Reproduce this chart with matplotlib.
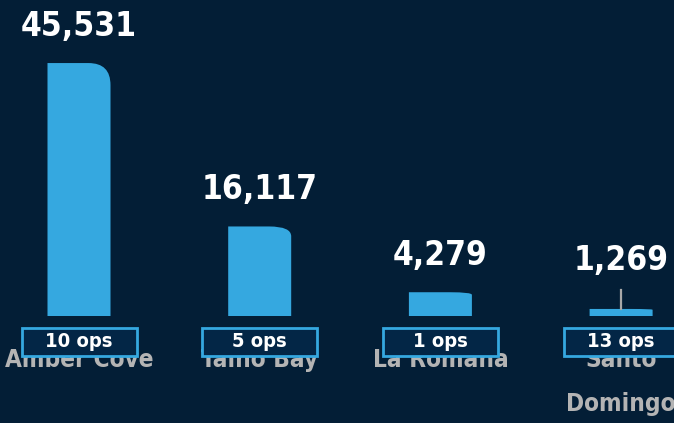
import matplotlib
matplotlib.use("Agg")
import matplotlib.pyplot as plt
from matplotlib import font_manager
from matplotlib.path import Path
from matplotlib.patches import PathPatch, Rectangle

# ---- data ----
ports = ["Amber Cove", "Taino Bay", "La Romana", "Santo\nDomingo"]
passengers = [45531, 16117, 4279, 1269]
ops = [10, 5, 1, 13]

BG = "#031e36"
BAR = "#35a8e0"
BOX_FILL = "#032646"
GREY = "#b4b4b4"

# narrowest bold face we can find (the original uses a condensed display font)
fl = font_manager.fontManager.ttflist
cands = [f for f in fl if "Oswald" in f.name]
cands += [f for f in fl if ("Narrow" in f.name or "Condensed" in f.name
                            or f.stretch in ("condensed", "semi-condensed", "extra-condensed", 87.5, 75, 62.5))]
bold = [f for f in cands if f.weight in ("bold", 700, "semibold", 600, "heavy", 800)]
FONT_FILE = bold[0].fname if bold else None


def txt(x, y, s, size, **kw):
    if FONT_FILE:
        fp = font_manager.FontProperties(fname=FONT_FILE, size=size)
    else:
        fp = font_manager.FontProperties(family="Roboto", weight="bold", size=size)
    return ax.text(x, y, s, fontproperties=fp, **kw)


W, H = 674, 423
PX_Y = 180.0          # value units per pixel
PX_X = 1 / 180.7      # category units per pixel
BASE_PX = 107         # baseline height above bottom edge, px

fig = plt.figure(figsize=(W / 100, H / 100), dpi=100, facecolor=BG)
ax = fig.add_axes([0, 0, 1, 1])
ax.set_facecolor(BG)
ax.set_xlim(-79 * PX_X, (W - 79) * PX_X)
ax.set_ylim(-BASE_PX * PX_Y, (H - BASE_PX) * PX_Y)
ax.axis("off")

bw = 63 * PX_X
for i, (name, v, n) in enumerate(zip(ports, passengers, ops)):
    # bar with a rounded top-right corner
    x0, x1 = i - bw / 2, i + bw / 2
    h_px = v / PX_Y
    rx = 22 * PX_X
    ry = min(22.0, 0.11 * h_px) * PX_Y
    verts = [(x0, 0), (x0, v), (x1 - rx, v), (x1, v), (x1, v - ry), (x1, 0), (x0, 0)]
    codes = [Path.MOVETO, Path.LINETO, Path.LINETO, Path.CURVE3, Path.CURVE3,
             Path.LINETO, Path.CLOSEPOLY]
    ax.add_patch(PathPatch(Path(verts, codes), fc=BAR, ec="none", zorder=2))

    # value label, kept clear of the baseline; leader line when lifted
    lab_px = max(h_px + 37, 56)
    if lab_px > h_px + 37:
        ax.plot([i, i], [v, v + 19 * PX_Y], color="#a8a8a8", lw=1.6, zorder=2)
    txt(i, lab_px * PX_Y, f"{v:,}", 24, ha="center", va="center", color="white", zorder=3)

    # category label (partly hidden by the ops box)
    txt(i, -32 * PX_Y, name, 17.5, ha="center", va="top", color=GREY,
        linespacing=2.05, zorder=3)

    # ops box
    bx = 115 * PX_X
    ax.add_patch(Rectangle((i - bx / 2, -39.5 * PX_Y), bx, 28 * PX_Y, fc=BOX_FILL,
                           ec=BAR, lw=2, zorder=4, clip_on=False))
    txt(i, -25.5 * PX_Y, f"{n} ops", 14.5, ha="center", va="center", color="white", zorder=5)

fig.savefig("out.png", dpi=100, facecolor=BG)
